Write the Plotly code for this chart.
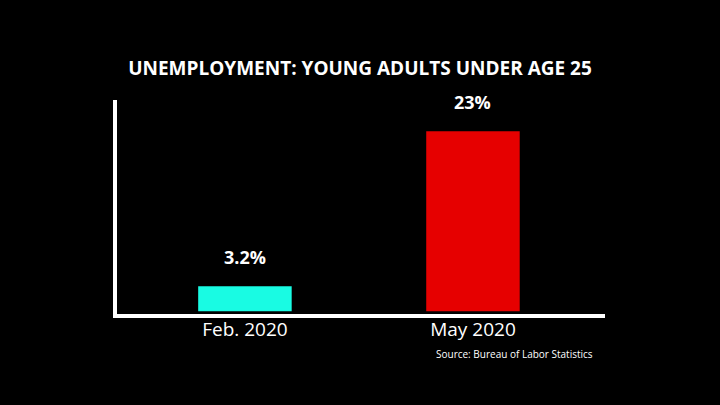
import plotly.graph_objects as go

periods = ["Feb. 2020", "May 2020"]
rates = [3.2, 23]
rate_labels = ["3.2%", "23%"]
bar_colors = ["#19fbe3", "#e60000"]

fig = go.Figure()
fig.add_trace(go.Bar(x=periods, y=rates, marker_color=bar_colors,
                     marker_line_width=0, width=0.41, hoverinfo="skip"))

# value labels above each bar
for p, r, lab in zip(periods, rates, rate_labels):
    fig.add_annotation(x=p, y=r, text="<b>" + lab + "</b>", showarrow=False,
                       yanchor="bottom", yshift=15,
                       font=dict(family="Open Sans", size=18, color="white"))

fig.add_annotation(xref="paper", yref="paper", x=0.98, y=-0.185,
                   xanchor="right", yanchor="middle",
                   text="Source: Bureau of Labor Statistics", showarrow=False,
                   font=dict(family="Open Sans", size=10, color="white"))

fig.update_layout(
    width=720, height=405,
    paper_bgcolor="black", plot_bgcolor="black",
    margin=dict(l=117, r=115, t=100, b=91),
    showlegend=False,
    title=dict(text="<b>UNEMPLOYMENT: YOUNG ADULTS UNDER AGE 25</b>",
               x=0.5, xanchor="center", y=0.832, yanchor="middle",
               font=dict(family="Open Sans", size=19, color="white")),
    xaxis=dict(range=[-0.561, 1.579], showline=True, linecolor="white", linewidth=4,
               showgrid=False, zeroline=False, ticks="", ticklabelstandoff=-5,
               tickfont=dict(family="Open Sans", size=19, color="white")),
    yaxis=dict(range=[-0.35, 27], showline=True, linecolor="white", linewidth=4,
               showgrid=False, zeroline=False, showticklabels=False, ticks=""),
)

fig.write_html("out.html", config={"displayModeBar": False},
               post_script="document.body.style.margin='0';")
